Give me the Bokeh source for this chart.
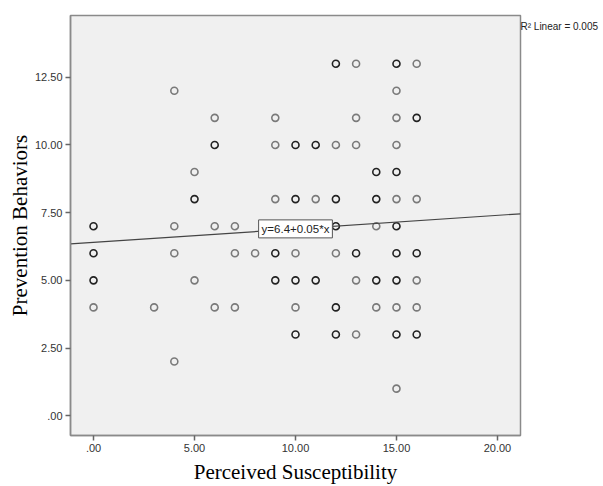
from bokeh.plotting import figure
from bokeh.models import ColumnDataSource, Range1d, FixedTicker, Label, LinearAxis
from bokeh.embed import file_html
from bokeh.resources import INLINE

# ---- data ----
x_vals = [0, 0, 0, 0,
          3,
          4, 4, 4, 4,
          5, 5, 5,
          6, 6, 6, 6,
          7, 7, 7,
          8,
          9, 9, 9, 9, 9,
          10, 10, 10, 10, 10, 10,
          11, 11, 11,
          12, 12, 12, 12, 12, 12, 12,
          13, 13, 13, 13, 13, 13,
          14, 14, 14, 14, 14,
          15, 15, 15, 15, 15, 15, 15, 15, 15, 15, 15, 15,
          16, 16, 16, 16, 16, 16, 16]
y_vals = [7, 6, 5, 4,
          4,
          12, 7, 6, 2,
          9, 8, 5,
          11, 10, 7, 4,
          7, 6, 4,
          6,
          11, 10, 8, 6, 5,
          10, 8, 6, 5, 4, 3,
          10, 8, 5,
          13, 10, 8, 7, 6, 4, 3,
          13, 11, 10, 6, 5, 3,
          9, 8, 7, 5, 4,
          13, 12, 11, 10, 9, 8, 7, 6, 5, 4, 3, 1,
          13, 11, 8, 6, 5, 4, 3]
# estimated number of overlapping cases at each point (darker rings = several)
overlap = [2, 2, 2, 1,
           1,
           1, 1, 1, 1,
           1, 2, 1,
           1, 2, 1, 1,
           1, 1, 1,
           1,
           1, 1, 1, 2, 2,
           2, 2, 1, 2, 1, 2,
           2, 1, 2,
           2, 1, 2, 2, 1, 2, 2,
           1, 1, 1, 2, 1, 1,
           2, 2, 1, 2, 1,
           2, 1, 1, 1, 2, 1, 2, 2, 2, 1, 2, 1,
           1, 2, 1, 2, 1, 1, 2]

fit_intercept = 6.4
fit_slope = 0.05
fit_label = "y=6.4+0.05*x"
r2_label = "R\u00b2 Linear = 0.005"
r2_label_y = 14.37

x_ticks = [0, 5, 10, 15, 20]
x_tick_labels = [".00", "5.00", "10.00", "15.00", "20.00"]
y_ticks = [0, 2.5, 5, 7.5, 10, 12.5]
y_tick_labels = [".00", "2.50", "5.00", "7.50", "10.00", "12.50"]

x_title = "Perceived Susceptibility"
y_title = "Prevention Behaviors"

# ---- figure ----
x0, x1 = -1.14, 21.14
y0, y1 = -0.73, 14.78

p = figure(width=603, height=486, output_backend="svg", toolbar_location=None,
           x_range=Range1d(x0, x1), y_range=Range1d(y0, y1),
           min_border_left=70, min_border_right=83, min_border_top=15, min_border_bottom=49)
p.background_fill_color = "#f0f0f0"
p.border_fill_color = "white"
p.outline_line_color = "#8a8a8a"
p.outline_line_width = 1.5
p.xgrid.visible = False
p.ygrid.visible = False

colors = ["#222222" if n > 1 else "#7a7a7a" for n in overlap]
src = ColumnDataSource(dict(x=x_vals, y=y_vals, c=colors))
p.scatter("x", "y", source=src, marker="circle", size=7, fill_color=None,
          line_color="c", line_width=1.6)

# fit line across the frame
fx = [x0, x1]
fy = [fit_intercept + fit_slope * v for v in fx]
p.line(fx, fy, line_color="#444444", line_width=1.2)

lab = Label(x=10, y=fit_intercept + fit_slope * 10, text=fit_label,
            text_align="center", text_baseline="middle",
            text_font="Liberation Sans", text_font_size="11.5px", text_color="#222222",
            background_fill_color="white", border_line_color="#555555",
            border_line_width=1, padding=3)
p.add_layout(lab)

# R^2 note outside the frame, drawn as the single label of a bare right axis
r_ax = LinearAxis(ticker=FixedTicker(ticks=[r2_label_y]),
                  major_label_overrides={r2_label_y: r2_label})
r_ax.axis_line_color = None
r_ax.major_tick_line_color = None
r_ax.minor_tick_line_color = None
r_ax.major_tick_out = 0
r_ax.major_tick_in = 0
r_ax.major_label_standoff = 0
r_ax.major_label_text_font = "Liberation Sans"
r_ax.major_label_text_font_size = "10px"
r_ax.major_label_text_color = "#222222"
p.add_layout(r_ax, "right")

for ax, ticks, labels in ((p.xaxis[0], x_ticks, x_tick_labels), (p.yaxis[0], y_ticks, y_tick_labels)):
    ax.ticker = FixedTicker(ticks=ticks)
    ax.major_label_overrides = {t: l for t, l in zip(ticks, labels)}
    ax.minor_tick_line_color = None
    ax.major_tick_in = 0
    ax.major_tick_out = 5
    ax.major_tick_line_color = "#666666"
    ax.major_tick_line_width = 1.5
    ax.axis_line_color = "#8a8a8a"
    ax.axis_line_width = 1.5
    ax.major_label_text_font = "Liberation Sans"
    ax.major_label_text_font_size = "11px"
    ax.major_label_text_color = "#333333"
    ax.major_label_standoff = 3
    ax.axis_label_text_font = "Liberation Serif"
    ax.axis_label_text_font_size = "21px"
    ax.axis_label_text_font_style = "normal"
    ax.axis_label_text_color = "black"

p.xaxis[0].axis_label = x_title
p.yaxis[0].axis_label = y_title
p.xaxis[0].axis_label_standoff = 5
p.yaxis[0].axis_label_standoff = 0

open("out.html", "w").write(file_html(p, INLINE))
